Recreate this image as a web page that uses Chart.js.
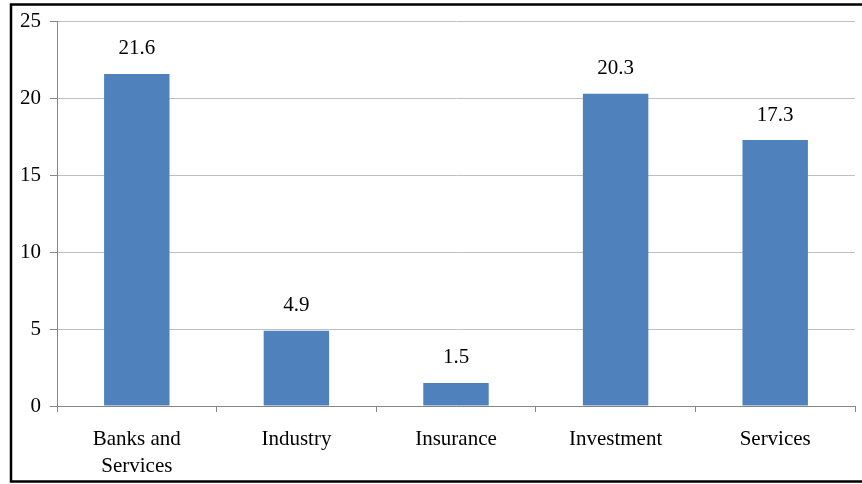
<!DOCTYPE html>
<html>
<head>
<meta charset="utf-8">
<script src="https://cdn.jsdelivr.net/npm/chart.js@4/dist/chart.umd.min.js"></script>
<style>
  html, body { margin: 0; padding: 0; background: #fff; }
  #wrap { width: 862px; height: 484px; position: relative; }
</style>
</head>
<body>
<div id="wrap"><canvas id="c" width="862" height="484"></canvas></div>
<script>
const categories = [['Banks and', 'Services'], 'Industry', 'Insurance', 'Investment', 'Services'];
const values = [21.6, 4.9, 1.5, 20.3, 17.3];
const yTicks = [0, 5, 10, 15, 20, 25];

const FONT = '"Liberation Serif", "Times New Roman", serif';
const FONT_SIZE = 21;

// White background plus the black frame on the left, top and bottom edges
const framePlugin = {
  id: 'frame',
  beforeDraw(chart) {
    const ctx = chart.ctx;
    ctx.save();
    ctx.fillStyle = '#fff';
    ctx.fillRect(0, 0, chart.width, chart.height);
    ctx.restore();
  },
  afterDraw(chart) {
    const ctx = chart.ctx;
    ctx.save();
    ctx.strokeStyle = '#000';
    ctx.lineWidth = 2.5;
    ctx.beginPath();
    ctx.moveTo(chart.width, 4.5);
    ctx.lineTo(11, 4.5);
    ctx.lineTo(11, 481.5);
    ctx.lineTo(chart.width, 481.5);
    ctx.stroke();
    ctx.restore();
  }
};

// Value labels above each bar
const valueLabels = {
  id: 'valueLabels',
  afterDatasetsDraw(chart) {
    const ctx = chart.ctx;
    const meta = chart.getDatasetMeta(0);
    ctx.save();
    ctx.font = FONT_SIZE + 'px ' + FONT;
    ctx.fillStyle = '#000';
    ctx.textAlign = 'center';
    ctx.textBaseline = 'middle';
    meta.data.forEach((bar, i) => {
      ctx.fillText(values[i].toFixed(1), bar.x, bar.y - 25);
    });
    ctx.restore();
  }
};

new Chart(document.getElementById('c'), {
  type: 'bar',
  data: {
    labels: categories,
    datasets: [{
      data: values,
      backgroundColor: '#4F81BD',
      borderWidth: 0,
      categoryPercentage: 1.0,
      barPercentage: 0.41
    }]
  },
  options: {
    responsive: false,
    animation: false,
    devicePixelRatio: 1,
    layout: { padding: { left: 0, top: 20, right: 7, bottom: 0 } },
    plugins: {
      legend: { display: false },
      tooltip: { enabled: false }
    },
    scales: {
      x: {
        grid: {
          display: true,
          offset: true,
          drawOnChartArea: false,
          tickLength: 6,
          color: '#868686'
        },
        border: { display: true, color: '#868686', width: 1 },
        ticks: {
          color: '#000',
          padding: 14,
          maxRotation: 0,
          autoSkip: false,
          font: { family: FONT, size: FONT_SIZE, lineHeight: 27 / FONT_SIZE }
        },
        afterFit(scale) { scale.height = 78; }
      },
      y: {
        min: 0,
        max: 25,
        afterBuildTicks(scale) { scale.ticks = yTicks.map(v => ({ value: v })); },
        grid: {
          color: '#BFBFBF',
          tickLength: 7,
          tickColor: '#868686'
        },
        border: { display: true, color: '#868686', width: 1 },
        ticks: {
          color: '#000',
          padding: 9,
          font: { family: FONT, size: FONT_SIZE }
        },
        afterFit(scale) { scale.width = 57; }
      }
    }
  },
  plugins: [framePlugin, valueLabels]
});
</script>
</body>
</html>
